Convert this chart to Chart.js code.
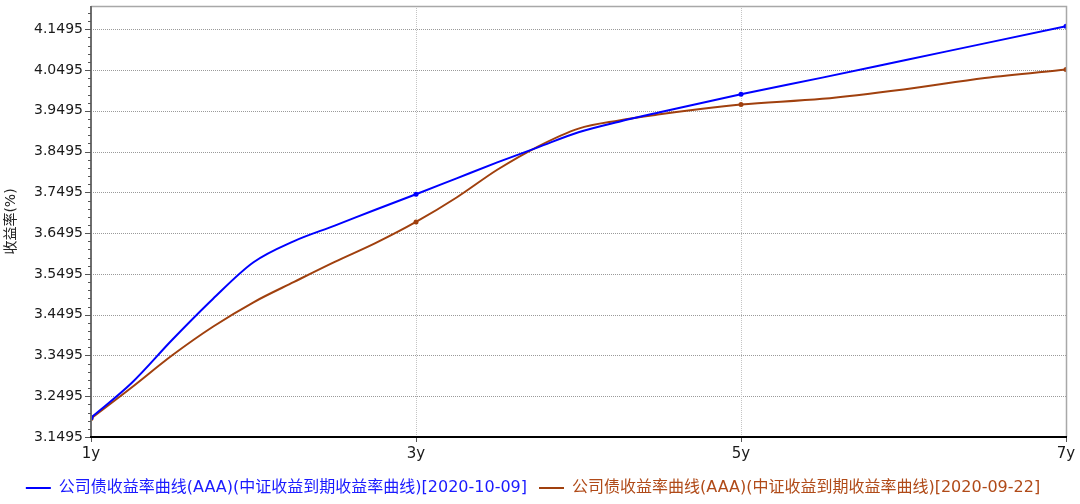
<!DOCTYPE html>
<html><head><meta charset="utf-8">
<script src="https://cdn.jsdelivr.net/npm/chart.js@4.4.0/dist/chart.umd.min.js"></script>
<style>html,body{margin:0;padding:0;background:#fff;overflow:hidden;}</style>
</head><body>
<canvas id="c" width="1080" height="504"></canvas>
<script>
const tenors = [1,1.25,1.5,1.75,2,2.25,2.5,2.75,3,3.25,3.5,3.75,4,4.25,4.5,4.75,5,5.5,6,6.5,7];
const curve20201009 = [3.197,3.282,3.388,3.488,3.578,3.630,3.668,3.707,3.745,3.784,3.823,3.860,3.897,3.923,3.946,3.968,3.990,4.031,4.073,4.115,4.157];
const curve20200922 = [3.195,3.271,3.350,3.420,3.480,3.530,3.579,3.625,3.677,3.737,3.805,3.862,3.906,3.926,3.941,3.954,3.965,3.979,4.002,4.030,4.051];
const xTickValues = [1,3,5,7];
const xTickLabels = ['1y','3y','5y','7y'];
const yMin = 3.1495, yMax = 4.2067, yMinorStep = 0.02, yMajorEvery = 5;
const seriesNames = ['公司债收益率曲线(AAA)(中证收益到期收益率曲线)[2020-10-09]','公司债收益率曲线(AAA)(中证收益到期收益率曲线)[2020-09-22]'];
const seriesColors = ['#0000ff','#a0400e'];
const legendTextColors = ['#1a1aff','#b04a18'];
const yTitle = '收益率(%)';

const FONT = '"DejaVu Sans","Noto Sans CJK SC",sans-serif';

const framePlugin = {
  id: 'frame',
  beforeDatasetsDraw(chart) {
    const {ctx, chartArea: a, scales: {x, y}} = chart;
    ctx.save();
    ctx.lineWidth = 1;
    ctx.setLineDash([1, 1]);
    ctx.strokeStyle = '#9a9a9a';
    y.ticks.forEach((t, i) => {
      if (i % yMajorEvery !== 0 || i === 0) return;
      const py = Math.round(y.getPixelForValue(t.value)) + 0.5;
      ctx.beginPath(); ctx.moveTo(a.left, py); ctx.lineTo(a.right, py); ctx.stroke();
    });
    ctx.strokeStyle = '#c4c4c4';
    x.ticks.forEach(t => {
      if (t.value === x.min || t.value === x.max) return;
      const px = Math.round(x.getPixelForValue(t.value)) + 0.5;
      ctx.beginPath(); ctx.moveTo(px, a.top); ctx.lineTo(px, a.bottom); ctx.stroke();
    });
    ctx.restore();
  },
  afterDatasetsDraw(chart) {
    const {ctx, chartArea: a, scales: {x, y}} = chart;
    ctx.save();
    ctx.setLineDash([]);
    ctx.strokeStyle = '#a8a8a8'; ctx.lineWidth = 1.5;
    ctx.beginPath(); ctx.moveTo(a.left, a.top + 0.5); ctx.lineTo(a.right + 0.5, a.top + 0.5); ctx.lineTo(a.right + 0.5, a.bottom); ctx.stroke();
    ctx.strokeStyle = '#6e6e6e'; ctx.lineWidth = 2;
    ctx.beginPath(); ctx.moveTo(a.left, a.top); ctx.lineTo(a.left, a.bottom); ctx.stroke();
    ctx.lineWidth = 1; ctx.strokeStyle = '#555';
    y.ticks.forEach((t, i) => {
      const py = Math.round(y.getPixelForValue(t.value)) + 0.5;
      const len = (i % yMajorEvery === 0) ? 6 : 3;
      ctx.beginPath(); ctx.moveTo(a.left - len, py); ctx.lineTo(a.left, py); ctx.stroke();
    });
    x.ticks.forEach(t => {
      const px = Math.round(x.getPixelForValue(t.value)) + 0.5;
      ctx.beginPath(); ctx.moveTo(px, a.bottom); ctx.lineTo(px, a.bottom + 5); ctx.stroke();
    });
    ctx.strokeStyle = '#000'; ctx.lineWidth = 2;
    ctx.beginPath(); ctx.moveTo(a.left - 1, a.bottom); ctx.lineTo(a.right + 1, a.bottom); ctx.stroke();
    ctx.restore();
  }
};

const pointR = c => xTickValues.includes(tenors[c.dataIndex]) ? 2.5 : 0;

new Chart(document.getElementById('c'), {
  type: 'line',
  data: {
    datasets: [
      { label: seriesNames[0], data: tenors.map((t, i) => ({x: t, y: curve20201009[i]})),
        borderColor: seriesColors[0], backgroundColor: seriesColors[0], borderWidth: 2,
        pointRadius: pointR, pointBorderWidth: 0, cubicInterpolationMode: 'monotone', fill: false },
      { label: seriesNames[1], data: tenors.map((t, i) => ({x: t, y: curve20200922[i]})),
        borderColor: seriesColors[1], backgroundColor: seriesColors[1], borderWidth: 2,
        pointRadius: pointR, pointBorderWidth: 0, cubicInterpolationMode: 'monotone', fill: false }
    ]
  },
  options: {
    responsive: false, animation: false, devicePixelRatio: 1,
    layout: { padding: { left: 0, right: 14, top: 6, bottom: 0 } },
    plugins: {
      tooltip: { enabled: false },
      legend: {
        position: 'bottom', maxHeight: 36,
        labels: {
          usePointStyle: true, pointStyle: 'line', pointStyleWidth: 25, padding: 12,
          font: { size: 16, family: FONT },
          generateLabels(chart) {
            const items = Chart.defaults.plugins.legend.labels.generateLabels(chart);
            items.forEach((it, i) => { it.fontColor = legendTextColors[i]; it.lineWidth = 2; });
            return items;
          }
        }
      }
    },
    scales: {
      x: {
        type: 'linear', min: 1, max: 7,
        grid: { drawOnChartArea: false, drawTicks: true, tickLength: 5, tickColor: 'rgba(0,0,0,0)', color: 'rgba(0,0,0,0)' },
        border: { display: false },
        afterBuildTicks: s => { s.ticks = xTickValues.map(v => ({value: v})); },
        afterFit: s => { s.height = 31; s.paddingLeft = 0; s.paddingRight = 0; },
        ticks: { autoSkip: false, maxRotation: 0, padding: 3, color: '#1a1a1a',
          font: { size: 15, family: FONT },
          callback: v => xTickLabels[xTickValues.indexOf(v)] }
      },
      y: {
        type: 'linear', min: yMin, max: yMax,
        grid: { drawOnChartArea: false, drawTicks: true, tickLength: 6, tickColor: 'rgba(0,0,0,0)', color: 'rgba(0,0,0,0)' },
        border: { display: false },
        afterBuildTicks: s => {
          const arr = [];
          for (let i = 0; yMin + yMinorStep * i <= yMax + 1e-9; i++) arr.push({value: +(yMin + yMinorStep * i).toFixed(4)});
          s.ticks = arr;
        },
        afterFit: s => { s.width = 91; s.paddingTop = 0; s.paddingBottom = 0; },
        title: { display: true, text: yTitle, color: '#222', padding: { top: 3, bottom: 0 },
          font: { size: 14, family: FONT } },
        ticks: { autoSkip: false, padding: 2, color: '#1a1a1a',
          font: { size: 14, family: FONT },
          callback: (v, i) => (i % yMajorEvery === 0) ? Number(v).toFixed(4) : '' }
      }
    }
  },
  plugins: [framePlugin]
});
</script>
</body></html>
